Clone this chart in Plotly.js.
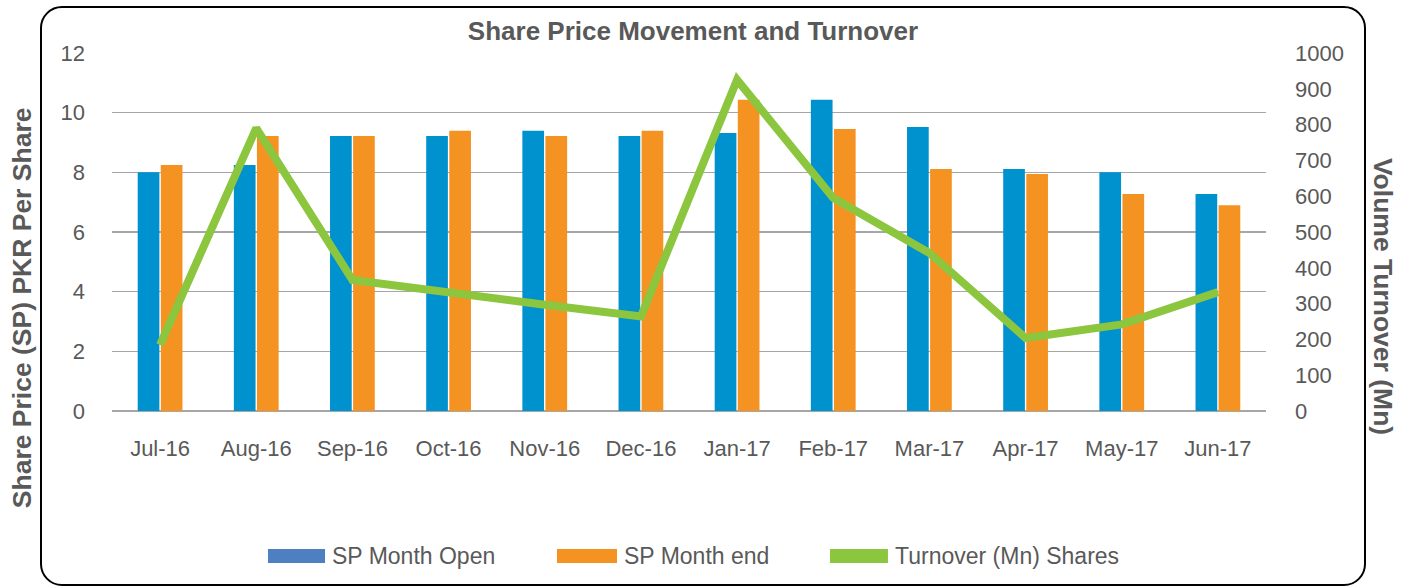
<!DOCTYPE html>
<html>
<head>
<meta charset="utf-8">
<script src="https://cdn.plot.ly/plotly-3.0.1.min.js"></script>
<style>
  html, body { margin:0; padding:0; background:#fff; width:1410px; height:587px; overflow:hidden; }
  #frame { position:absolute; left:40px; top:6px; width:1322px; height:576px; border:2.5px solid #000; border-radius:22px; }
  #chart { position:absolute; left:0; top:0; width:1410px; height:587px; }
</style>
</head>
<body>
<div id="frame"></div>
<div id="chart"></div>
<script>
const months = ["Jul-16","Aug-16","Sep-16","Oct-16","Nov-16","Dec-16","Jan-17","Feb-17","Mar-17","Apr-17","May-17","Jun-17"];
const spOpen = [8.0, 8.25, 9.22, 9.22, 9.39, 9.22, 9.32, 10.43, 9.52, 8.11, 8.0, 7.27];
const spEnd  = [8.25, 9.22, 9.22, 9.39, 9.22, 9.39, 10.43, 9.45, 8.11, 7.94, 7.27, 6.9];
const turnover = [185, 790, 366, 330, 297, 264, 925, 595, 441, 204, 242, 332];
const leftTicks = [0, 2, 4, 6, 8, 10, 12];
const rightTicks = [0, 100, 200, 300, 400, 500, 600, 700, 800, 900, 1000];
const seriesNames = ["SP Month Open", "SP Month end", "Turnover (Mn) Shares"];

const cBlue = "#0091CF", cOrange = "#F59322", cGreen = "#8CC63F", cLegendBlue = "#4C80C0";
const grey = "#595959";
const FONT = "'Liberation Sans', Arial, Helvetica, sans-serif";

const traces = [
  {type:"bar", name:seriesNames[0], x:months, y:spOpen, marker:{color:cBlue}, showlegend:false, yaxis:"y"},
  {type:"bar", name:seriesNames[1], x:months, y:spEnd, marker:{color:cOrange}, showlegend:false, yaxis:"y"},
  {type:"scatter", mode:"lines", name:seriesNames[2], x:months, y:turnover, line:{color:cGreen, width:8}, showlegend:false, yaxis:"y2"}
];

// custom legend (wide swatches like the reference)
const legendX = [[0.1352,0.1846],[0.3856,0.4376],[0.6222,0.6724]];
const legendColors = [cLegendBlue, cOrange, cGreen];
const shapes = legendX.map((p,i)=>({type:"rect", xref:"paper", yref:"paper", x0:p[0], x1:p[1], y0:-0.3855, y1:-0.4246, fillcolor:legendColors[i], line:{width:0}}));
const annotations = legendX.map((p,i)=>({xref:"paper", yref:"paper", x:p[1]+0.004, y:-0.405, xanchor:"left", yanchor:"middle", text:seriesNames[i], showarrow:false, font:{family:FONT, size:23, color:grey}}));
annotations.push({xref:"paper", yref:"paper", x:-0.078, y:0.29, xanchor:"center", yanchor:"middle", textangle:-90, text:"<b>Share Price (SP) PKR Per Share</b>", showarrow:false, font:{family:FONT, size:26.5, color:grey}});
annotations.push({xref:"paper", yref:"paper", x:1.101, y:0.32, xanchor:"center", yanchor:"middle", textangle:90, text:"<b>Volume Turnover (Mn)</b>", showarrow:false, font:{family:FONT, size:26.5, color:grey}});

const layout = {
  width:1410, height:587,
  margin:{l:112, r:144, t:53, b:176},
  paper_bgcolor:"rgba(0,0,0,0)", plot_bgcolor:"rgba(0,0,0,0)",
  font:{family:FONT, color:grey, size:21},
  title:{text:"<b>Share Price Movement and Turnover</b>", xref:"container", x:0.4915, yref:"container", y:0.947, xanchor:"center", yanchor:"middle", font:{family:FONT, size:26, color:grey}},
  barmode:"group", bargap:0.52, bargroupgap:0.06,
  showlegend:false,
  xaxis:{type:"category", showgrid:false, zeroline:false, showline:false, ticks:"", ticklabelstandoff:22, tickfont:{size:22, color:grey}},
  yaxis:{range:[0,12], tickvals:leftTicks, ticktext:leftTicks.map(String), showgrid:true, gridcolor:"#A6A6A6", gridwidth:1.5, zeroline:true, zerolinecolor:"#A6A6A6", zerolinewidth:1.5, showline:false, ticks:"", ticklabelstandoff:26, tickfont:{size:22, color:grey}},
  yaxis2:{range:[0,1000], overlaying:"y", side:"right", tickvals:rightTicks, ticktext:rightTicks.map(String), showgrid:false, zeroline:false, showline:false, ticks:"", ticklabelstandoff:28, tickfont:{size:22, color:grey}},
  shapes:shapes,
  annotations:annotations
};

Plotly.newPlot("chart", traces, layout, {displayModeBar:false, staticPlot:true});
</script>
</body>
</html>
